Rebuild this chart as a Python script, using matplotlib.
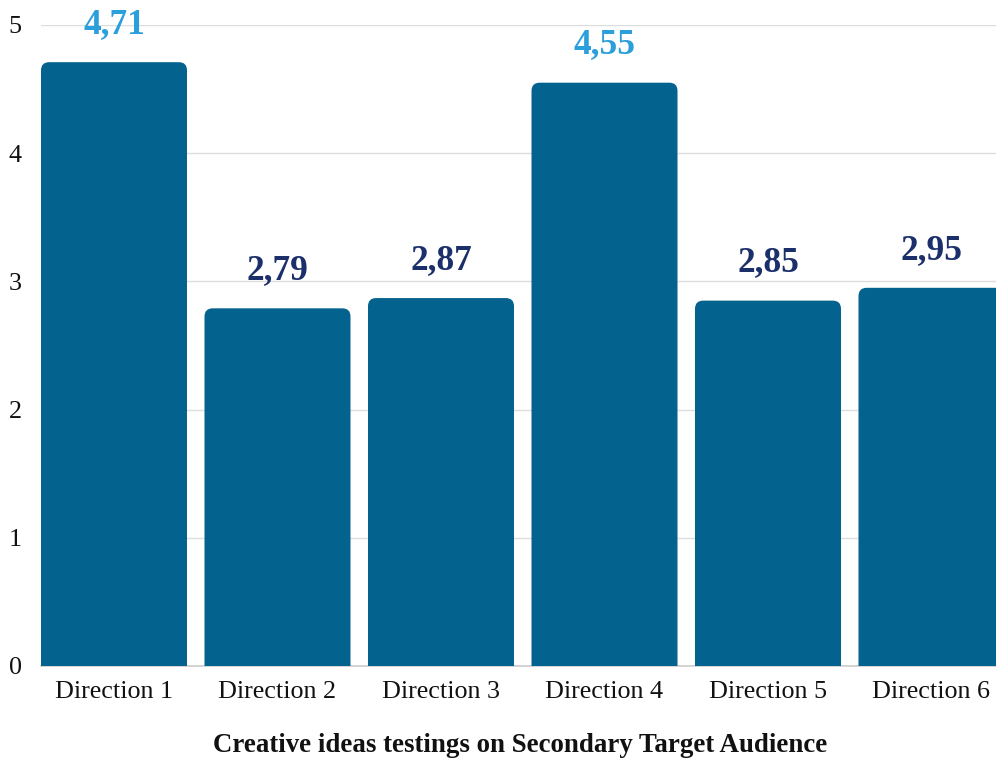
import matplotlib.pyplot as plt
from matplotlib.patches import FancyBboxPatch

categories = ["Direction 1", "Direction 2", "Direction 3", "Direction 4", "Direction 5", "Direction 6"]
scores = [4.71, 2.79, 2.87, 4.55, 2.85, 2.95]
score_labels = ["4,71", "2,79", "2,87", "4,55", "2,85", "2,95"]
highlight = [True, False, False, True, False, False]
y_ticks = [0, 1, 2, 3, 4, 5]

bar_color = "#04628f"
light_blue = "#2a9fdb"
navy = "#1b2f6b"

plt.rcParams['font.family'] = ['Liberation Serif', 'DejaVu Serif']

fig = plt.figure(figsize=(9.96, 7.58), dpi=100)
# axes deliberately runs past the right edge, like the original
ax = fig.add_axes([41 / 996, 92 / 758, 963.5 / 996, 641 / 758])

bar_w = 0.893
x = list(range(len(categories)))
bars = ax.bar(x, scores, width=bar_w, visible=False)

# px per data unit, used to keep corner radius round
px_x = 963.5 / (len(categories) - 1 + bar_w)
px_y = 641 / 5
aspect = px_x / px_y

for b in bars:
    patch = FancyBboxPatch((b.get_x(), -0.3), b.get_width(), b.get_height() + 0.3,
                           boxstyle="round,pad=0,rounding_size=0.05",
                           mutation_aspect=aspect,
                           facecolor=bar_color, edgecolor="none", zorder=3)
    ax.add_patch(patch)

for xi, val, lab, hl in zip(x, scores, score_labels, highlight):
    ax.text(xi, val + 0.165, lab, ha="center", va="bottom", fontsize=25.5, fontweight="bold",
            color=light_blue if hl else navy, clip_on=False, zorder=4)

ax.set_xlim(-bar_w / 2, len(categories) - 1 + bar_w / 2)
ax.set_ylim(0, 5)
ax.set_yticks(y_ticks)
ax.set_yticklabels([str(t) for t in y_ticks])
ax.set_xticks(x)
ax.set_xticklabels(categories)
ax.tick_params(axis="both", length=0, labelsize=18.8, colors="#111111")
ax.tick_params(axis="y", pad=14)
ax.tick_params(axis="x", pad=10.5)

ax.grid(axis="y", color="#dddddd", linewidth=1, zorder=0)
ax.set_axisbelow(True)
for side in ["top", "right", "left"]:
    ax.spines[side].set_visible(False)
ax.spines["bottom"].set_color("#cccccc")
ax.spines["bottom"].set_linewidth(1.2)

fig.text(520 / 996, 1 - 745 / 758, "Creative ideas testings on Secondary Target Audience",
         ha="center", va="center", fontsize=19.4, fontweight="bold", color="#111111")

fig.savefig("out.png", dpi=100)
